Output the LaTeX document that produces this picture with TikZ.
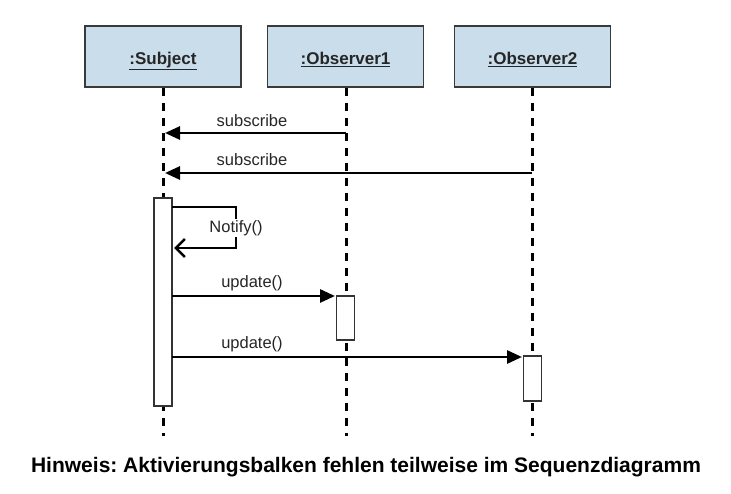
\documentclass[tikz,border=0pt]{standalone}
\usepackage{fontspec}
\setmainfont{Liberation Sans}
\usetikzlibrary{arrows.meta}
\definecolor{boxfill}{HTML}{C9DDEB}
\definecolor{boxline}{HTML}{3A3A3A}
\frenchspacing
\newcommand{\objlabel}[1]{\raisebox{-2pt}[12pt][0pt]{\underline{#1}}}
\begin{document}
\begin{tikzpicture}[x=1pt,y=-1pt,
  objbox/.style={draw=boxline,line width=1.6pt,fill=boxfill,minimum width=156pt,minimum height=61pt,inner sep=0pt,font=\bfseries\fontsize{17}{20}\selectfont,text=black!85},
  lifeline/.style={line width=3pt,dash pattern=on 8pt off 7pt},
  actbar/.style={draw=black!80,line width=1.3pt,fill=white,minimum width=18pt,inner sep=0pt},
  msg/.style={line width=2.8pt,-{Triangle[length=15pt,width=13pt]}},
  selfmsg/.style={line width=2.8pt,-{Straight Barb[length=9pt,width=18pt,line width=2.6pt]}},
  lbl/.style={font=\fontsize{16.5}{19}\selectfont,text=black!85,inner sep=1pt}]
\useasboundingbox (0,0) rectangle (731,494);
% object boxes
\node[objbox] (subj) at (163,56.5) {\objlabel{:Subject}};
\node[objbox] (obs1) at (345.5,56.5) {\objlabel{:Observer1}};
\node[objbox] (obs2) at (532.5,56.5) {\objlabel{:Observer2}};
% lifeline ends
\coordinate (subjEnd) at (163,436);
\coordinate (obs1End) at (346,436);
\coordinate (obs2End) at (532,436);
\draw[lifeline] (subj.south -| 163,0) -- (subjEnd);
\draw[lifeline] (obs1.south -| 346,0) -- (obs1End);
\draw[lifeline] (obs2.south -| 532,0) -- (obs2End);
% activation bars
\node[actbar,minimum height=208pt] (actS) at (163,302) {};
\node[actbar,minimum height=44pt] (act1) at (345.5,318) {};
\node[actbar,minimum height=45pt] (act2) at (532.5,378.5) {};
% subscribe messages
\coordinate (s1a) at (346,133);
\coordinate (s1b) at (165,133);
\draw[msg] (s1a) -- (s1b);
\node[lbl] (l1) at (252,121) {subscribe};
\coordinate (s2a) at (532,173);
\coordinate (s2b) at (165,173);
\draw[msg] (s2a) -- (s2b);
\node[lbl] (l2) at (252,160) {subscribe};
% self message
\coordinate (n1) at (172,207);
\coordinate (n2) at (236,207);
\coordinate (n3) at (236,248);
\coordinate (n4) at (174,248);
\draw[selfmsg] (n1) -- (n2) -- (n3) -- (n4);
\node[lbl,fill=white,inner sep=1pt] (ln) at (236,228) {Notify()};
% update messages
\coordinate (u1a) at (172,296);
\coordinate (u1b) at (335,296);
\draw[msg] (u1a) -- (u1b);
\node[lbl] (lu1) at (252,283) {update()};
\coordinate (u2a) at (172,357);
\coordinate (u2b) at (522,357);
\draw[msg] (u2a) -- (u2b);
\node[lbl] (lu2) at (252,344) {update()};
% caption
\node[font=\bfseries\fontsize{21}{24}\selectfont] (cap) at (366,467) {Hinweis: Aktivierungsbalken fehlen teilweise im Sequenzdiagramm};
\end{tikzpicture}
\end{document}
